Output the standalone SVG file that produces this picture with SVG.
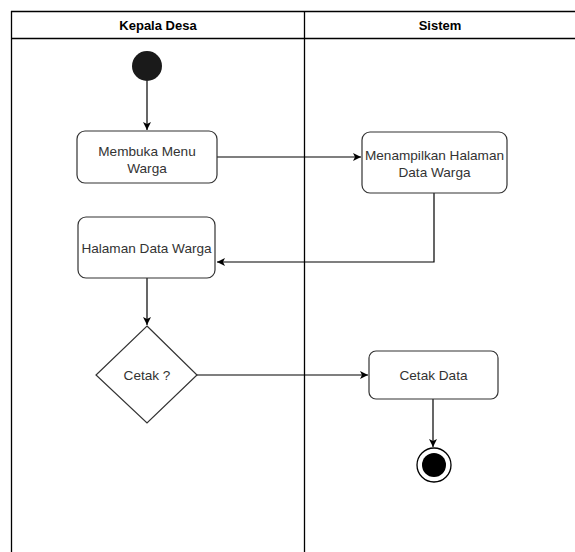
<svg xmlns="http://www.w3.org/2000/svg" width="575" height="552" viewBox="0 0 575 552">
<style>
.lane{fill:none;stroke:#000;stroke-width:1.3}
.box{fill:#fff;stroke:#333;stroke-width:1.2}
.t{font-family:"Liberation Sans",Arial,sans-serif;font-size:13.6px;fill:#333;text-anchor:middle}
.h{font-family:"Liberation Sans",Arial,sans-serif;font-size:13px;font-weight:bold;fill:#000;text-anchor:middle}
.c{fill:none;stroke:#000;stroke-width:1.2}
</style>
<defs>
<marker id="arr" markerWidth="10" markerHeight="10" refX="9" refY="5" orient="auto" markerUnits="userSpaceOnUse">
<path d="M1,1 L9,5 L1,9 L3,5 Z" fill="#000"/>
</marker>
</defs>
<rect width="575" height="552" fill="#fff"/>
<g id="lanes">
<line class="lane" x1="11" y1="11.5" x2="575" y2="11.5"/>
<line class="lane" x1="11" y1="38.5" x2="575" y2="38.5"/>
<line class="lane" x1="11.5" y1="11" x2="11.5" y2="552"/>
<line class="lane" x1="304.5" y1="11" x2="304.5" y2="552"/>
<text class="h" x="158" y="30">Kepala Desa</text>
<text class="h" x="440" y="30">Sistem</text>
</g>
<g id="connectors">
<line class="c" x1="147" y1="81" x2="147" y2="130" marker-end="url(#arr)"/>
<line class="c" x1="217" y1="157" x2="361" y2="157" marker-end="url(#arr)"/>
<polyline class="c" points="434,193 434,262 217,262" marker-end="url(#arr)"/>
<line class="c" x1="147" y1="278" x2="147" y2="325" marker-end="url(#arr)"/>
<line class="c" x1="197" y1="375" x2="368" y2="375" marker-end="url(#arr)"/>
<line class="c" x1="433" y1="399" x2="433" y2="447" marker-end="url(#arr)"/>
</g>
<g id="start"><circle cx="147" cy="66" r="15" fill="#1a1a1a"/></g>
<g id="membuka">
<rect class="box" x="77" y="131" width="140" height="52" rx="8"/>
<text class="t" x="147" y="156">Membuka Menu</text>
<text class="t" x="147" y="173">Warga</text>
</g>
<g id="menampilkan">
<rect class="box" x="362" y="132" width="145" height="61" rx="8"/>
<text class="t" x="434.5" y="160">Menampilkan Halaman</text>
<text class="t" x="434.5" y="177">Data Warga</text>
</g>
<g id="halaman">
<rect class="box" x="78" y="217" width="137" height="61" rx="8"/>
<text class="t" x="146.5" y="253">Halaman Data Warga</text>
</g>
<g id="cetak">
<polygon class="box" points="147,326 197,375 147,423 96,375"/>
<text class="t" x="147" y="380">Cetak ?</text>
</g>
<g id="cetakdata">
<rect class="box" x="369" y="351" width="129" height="48" rx="7"/>
<text class="t" x="433.5" y="380">Cetak Data</text>
</g>
<g id="end">
<circle cx="434" cy="465" r="17" fill="#fff" stroke="#000" stroke-width="1.3"/>
<circle cx="434" cy="465" r="12" fill="#000"/>
</g>
</svg>
